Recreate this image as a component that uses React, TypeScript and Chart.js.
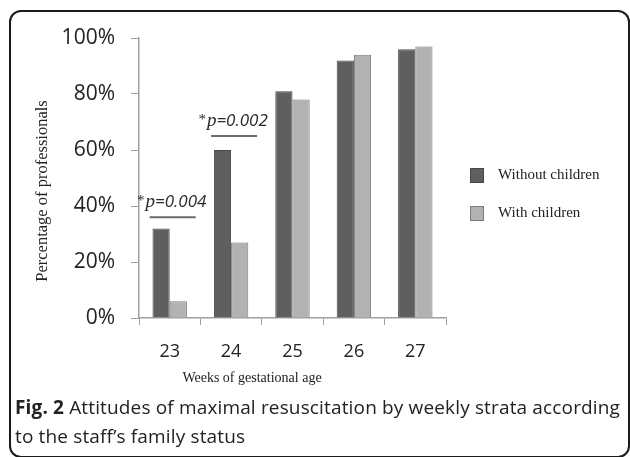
import React, { useEffect, useRef } from "react";
import { Chart, registerables } from "chart.js";

Chart.register(...registerables);

const weeks = ["23", "24", "25", "26", "27"];
const withoutChildren = [32, 60, 81, 92, 96];
const withChildren = [6, 27, 78, 94, 97];
const seriesLabels = ["Without children", "With children"];
const annotationWeeks = ["23", "24"];
const annotationValues = ["=0.004", "=0.002"];
const annotationLevels = [36, 65];
const yTitle = "Percentage of professionals";
const xTitle = "Weeks of gestational age";
const captionBold = "Fig. 2";
const captionText = " Attitudes of maximal resuscitation by weekly strata according to the staff\u2019s family status";

const DARK = "#5f5f5f";
const DARK_B = "#464646";
const LIGHT = "#b2b2b2";
const LIGHT_B = "#7a7a7a";

const overlay = {
  id: "overlay",
  afterDraw(chart: any) {
    const ctx = chart.ctx as CanvasRenderingContext2D;
    const xs = chart.scales.x;
    const ys = chart.scales.y;
    ctx.save();
    // significance annotations
    annotationWeeks.forEach((w, i) => {
      const cx = xs.getPixelForValue(weeks.indexOf(w)) + 3;
      const ly = ys.getPixelForValue(annotationLevels[i]);
      ctx.strokeStyle = "#6a6a6a";
      ctx.lineWidth = 2;
      ctx.beginPath();
      ctx.moveTo(cx - 23, ly);
      ctx.lineTo(cx + 23, ly);
      ctx.stroke();
      const fStar = "15px 'Liberation Serif'";
      const fP = "italic 19px 'Liberation Serif'";
      const fV = "italic 17px 'Open Sans'";
      ctx.font = fStar;
      const wStar = ctx.measureText("*").width;
      ctx.font = fP;
      const wP = ctx.measureText("p").width;
      ctx.font = fV;
      const wV = ctx.measureText(annotationValues[i]).width;
      const total = wStar + wP + wV + 1;
      let tx = cx - total / 2 - 1;
      const base = ly - 10;
      ctx.fillStyle = "#2a2a2a";
      ctx.textAlign = "left";
      ctx.textBaseline = "alphabetic";
      ctx.font = fStar;
      ctx.fillText("*", tx, base - 2);
      tx += wStar + 1;
      ctx.font = fP;
      ctx.fillText("p", tx, base);
      tx += wP;
      ctx.font = fV;
      ctx.fillText(annotationValues[i], tx, base);
    });
    // legend
    const lx = chart.chartArea.right + 24;
    const lys = [168, 206];
    const fills = [DARK, LIGHT];
    const borders = [DARK_B, LIGHT_B];
    seriesLabels.forEach((lab, i) => {
      ctx.fillStyle = fills[i];
      ctx.strokeStyle = borders[i];
      ctx.lineWidth = 1;
      ctx.fillRect(lx, lys[i], 14, 15);
      ctx.strokeRect(lx + 0.5, lys[i] + 0.5, 13, 14);
      ctx.fillStyle = "#222";
      ctx.font = "15px 'Liberation Serif'";
      ctx.textBaseline = "middle";
      ctx.fillText(lab, lx + 28, lys[i] + 7);
    });
    // axis titles
    ctx.fillStyle = "#222";
    ctx.textAlign = "center";
    ctx.textBaseline = "middle";
    ctx.font = "14px 'Liberation Serif'";
    ctx.fillText(xTitle, 252, 378);
    ctx.translate(43, 191);
    ctx.rotate(-Math.PI / 2);
    ctx.font = "16.5px 'Liberation Serif'";
    ctx.fillText(yTitle, 0, 0);
    ctx.restore();
  },
};

export default function App() {
  const ref = useRef<HTMLCanvasElement>(null);
  useEffect(() => {
    if (!ref.current) return;
    const chart = new Chart(ref.current, {
      type: "bar",
      data: {
        labels: weeks,
        datasets: [
          {
            label: seriesLabels[0],
            data: withoutChildren,
            backgroundColor: DARK,
            borderColor: DARK_B,
            borderWidth: 1,
          },
          {
            label: seriesLabels[1],
            data: withChildren,
            backgroundColor: LIGHT,
            borderColor: LIGHT_B,
            borderWidth: 1,
          },
        ],
      },
      options: {
        animation: false,
        responsive: false,
        maintainAspectRatio: false,
        layout: { padding: { left: 0, top: 38, right: 184, bottom: 0 } },
        datasets: { bar: { categoryPercentage: 0.56, barPercentage: 1 } },
        plugins: { legend: { display: false }, tooltip: { enabled: false } },
        scales: {
          x: {
            afterFit: (s: any) => {
              s.height = 457 - 318;
            },
            grid: {
              display: true,
              offset: true,
              drawOnChartArea: false,
              drawTicks: true,
              tickLength: 7,
              color: "#a0a0a0",
            },
            border: { display: true, color: "#a0a0a0", width: 1.5 },
            ticks: {
              color: "#222",
              font: { family: "'Open Sans'", size: 18 },
              padding: 16,
            },
          },
          y: {
            min: 0,
            max: 100,
            afterFit: (s: any) => {
              s.width = 139;
            },
            grid: {
              display: true,
              drawOnChartArea: false,
              drawTicks: true,
              tickLength: 8,
              color: "#a0a0a0",
            },
            border: { display: true, color: "#a0a0a0", width: 1.5 },
            ticks: {
              stepSize: 20,
              color: "#222",
              padding: 16,
              font: { family: "'Open Sans'", size: 21 },
              callback: (v: any) => v + "%",
            },
          },
        },
      },
      plugins: [overlay],
    });
    return () => chart.destroy();
  }, []);
  return (
    <div
      style={{
        position: "fixed",
        left: 0,
        top: 0,
        width: 630,
        height: 457,
        background: "#fff",
        overflow: "hidden",
      }}
    >
      <div
        style={{
          position: "absolute",
          left: 9,
          top: 10,
          width: 617,
          height: 444,
          border: "2px solid #1a1a1a",
          borderRadius: 12,
        }}
      />
      <canvas
        ref={ref}
        width={630}
        height={457}
        style={{ position: "absolute", left: 0, top: 0, width: 630, height: 457 }}
      />
      <div
        style={{
          position: "absolute",
          left: 15,
          top: 393,
          width: 612,
          fontFamily: "'Open Sans'",
          fontSize: 19,
          letterSpacing: "0.15px",
          lineHeight: "29px",
          color: "#222",
        }}
      >
        <b>{captionBold}</b>
        {captionText}
      </div>
    </div>
  );
}
